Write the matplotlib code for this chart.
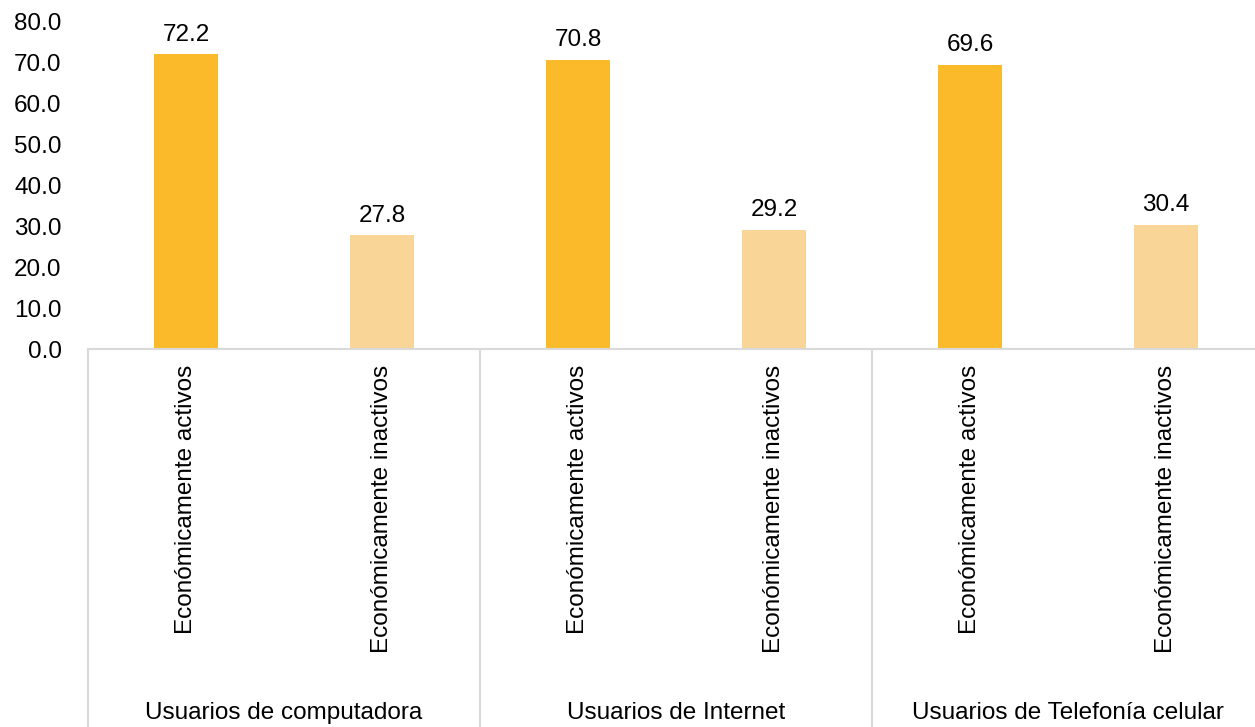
import matplotlib
matplotlib.use("Agg")
import matplotlib.pyplot as plt
import matplotlib.transforms as mtransforms

groups = ["Usuarios de computadora", "Usuarios de Internet", "Usuarios de Telefonía celular"]
categories = ["Económicamente activos", "Económicamente inactivos"]
values = [[72.2, 27.8], [70.8, 29.2], [69.6, 30.4]]
colors = ["#FBBA29", "#F9D597"]
yticks = [0, 10, 20, 30, 40, 50, 60, 70, 80]

plt.rcParams['font.family'] = ['Liberation Sans', 'DejaVu Sans']
FS = 17.5

W, H = 1255, 727
fig = plt.figure(figsize=(W/100, H/100), dpi=100)
left, right, base, top = 88, 1255, 349, 22
ax = fig.add_axes([left/W, (H-base)/H, (right-left)/W, (base-top)/H])

unit = 196.0  # pixels per category slot
xmax = (right-left)/unit
bw = 64/unit

for gi, g in enumerate(groups):
    for ci, c in enumerate(categories):
        x = gi*2 + ci + 0.5
        v = values[gi][ci]
        ax.bar(x, v, width=bw, color=colors[ci], zorder=2)
        ax.annotate(f"{v:.1f}", (x, v), xytext=(0, 6), textcoords="offset points",
                    ha="center", va="bottom", fontsize=FS, color="#000000")

ax.set_xlim(0, xmax)
ax.set_ylim(0, 80)
ax.set_yticks(yticks)
ax.set_yticklabels([f"{t:.1f}" for t in yticks], fontsize=FS)
ax.tick_params(axis='y', length=0, pad=19)
ax.set_xticks([])
for s in ["left", "right", "top"]:
    ax.spines[s].set_visible(False)
ax.spines["bottom"].set_color("#D9D9D9")
ax.spines["bottom"].set_linewidth(1.5)

trans = mtransforms.blended_transform_factory(ax.transData, ax.transAxes)
ybottom = -(H-base)/(base-top)
for sx in [0, 2, 4]:
    ax.plot([sx, sx], [0, ybottom], transform=trans, color="#D9D9D9", lw=1.5, clip_on=False)

cat_top = -16/(base-top)
for gi, g in enumerate(groups):
    for ci, c in enumerate(categories):
        x = gi*2 + ci + 0.5
        ax.text(x, cat_top, c, transform=trans, rotation=90, ha="center", va="top", fontsize=FS)
    ax.text(gi*2 + 1, -(713-base)/(base-top), g, transform=trans, ha="center", va="center", fontsize=FS)

fig.savefig("out.png", dpi=100)
